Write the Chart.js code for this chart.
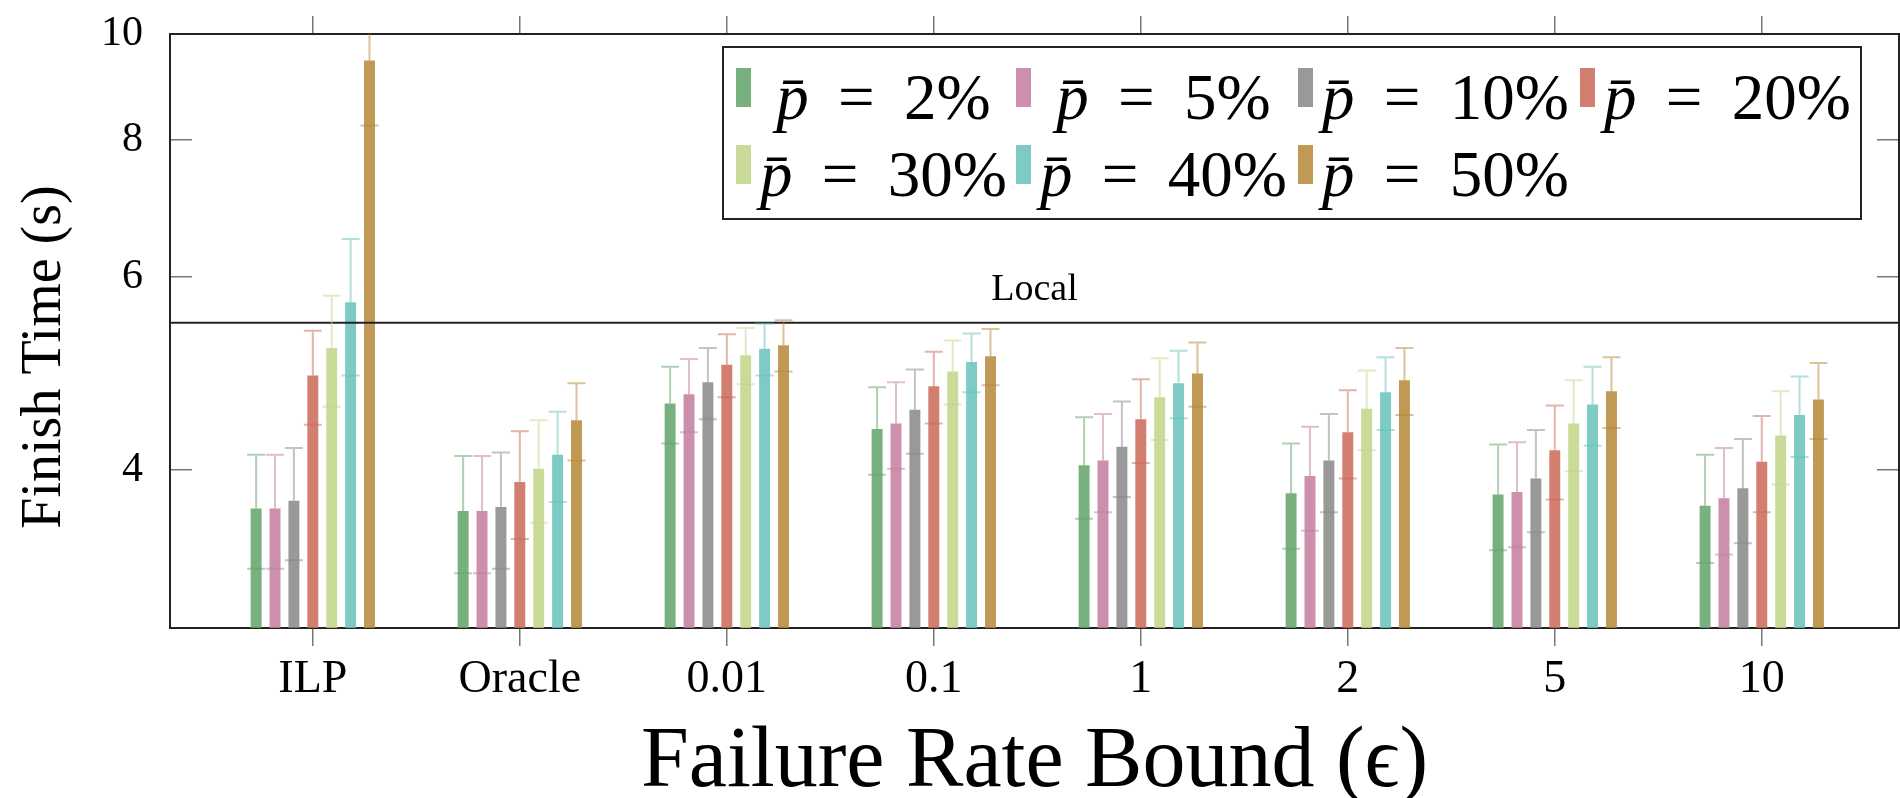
<!DOCTYPE html>
<html>
<head>
<meta charset="utf-8">
<script src="https://cdn.jsdelivr.net/npm/chart.js@4.4.0/dist/chart.umd.min.js"></script>
<style>
  html, body { margin: 0; padding: 0; background: #fff; }
  #wrap { width: 1900px; height: 798px; position: relative; }
</style>
</head>
<body>
<div id="wrap"><canvas id="c"></canvas></div>
<script>
// finish time per failure-rate bound, one series per p-bar

const categories = ["ILP", "Oracle", "0.01", "0.1", "1", "2", "5", "10"];
const seriesLabels = ["2%", "5%", "10%", "20%", "30%", "40%", "50%"];

const mean2  = [3.69, 3.67, 4.60, 4.36, 4.04, 3.81, 3.80, 3.71];
const err2   = [0.44, 0.45, 0.37, 0.40, 0.43, 0.42, 0.42, 0.42];
const mean5  = [3.69, 3.67, 4.69, 4.41, 4.08, 3.95, 3.82, 3.77];
const err5   = [0.44, 0.45, 0.36, 0.40, 0.42, 0.43, 0.42, 0.42];
const mean10 = [3.75, 3.70, 4.81, 4.54, 4.20, 4.08, 3.93, 3.85];
const err10  = [0.44, 0.45, 0.36, 0.40, 0.42, 0.42, 0.42, 0.42];
const mean20 = [4.88, 3.90, 4.99, 4.77, 4.45, 4.33, 4.17, 4.07];
const err20  = [0.48, 0.44, 0.33, 0.36, 0.39, 0.40, 0.41, 0.41];
const mean30 = [5.17, 4.01, 5.09, 4.92, 4.66, 4.55, 4.41, 4.30];
const err30  = [0.60, 0.43, 0.30, 0.33, 0.40, 0.38, 0.42, 0.42];
const mean40 = [5.69, 4.13, 5.16, 5.02, 4.80, 4.71, 4.59, 4.49];
const err40  = [0.81, 0.39, 0.28, 0.31, 0.34, 0.36, 0.38, 0.38];
const mean50 = [9.46, 4.44, 5.20, 5.08, 4.90, 4.83, 4.72, 4.64];
const err50  = [1.21, 0.36, 0.28, 0.30, 0.33, 0.34, 0.35, 0.37];

const yTicks = [4, 6, 8, 10];
const localTime = 5.45;

const means = [mean2, mean5, mean10, mean20, mean30, mean40, mean50];
const errs = [err2, err5, err10, err20, err30, err40, err50];
const rgb = [
  [98, 162, 104], [195, 123, 157], [135, 135, 135], [202, 105, 86],
  [193, 213, 135], [102, 194, 186], [181, 135, 55]
];

const FONT = '"Liberation Serif", "Times New Roman", serif';
const X_MIN = -0.69, X_MAX = 7.663;
const Y_MIN = 2.87, Y_MAX = 10;

const rgba = (c, a) => `rgba(${c[0]},${c[1]},${c[2]},${a})`;
const catTicks = s => { s.ticks = categories.map((_, i) => ({ value: i })); };
const yTickList = s => { s.ticks = yTicks.map(v => ({ value: v })); };
// no extra room for labels that hang over the plot edges
const noPad = s => { s.paddingTop = s.paddingBottom = s.paddingLeft = s.paddingRight = 0; };

const datasets = means.map((m, k) => ({
  type: "bar",
  label: seriesLabels[k],
  data: m.map((v, i) => ({ x: i, y: v })),
  errors: errs[k],
  backgroundColor: rgba(rgb[k], 0.85),
  errorColor: rgba(rgb[k], 0.5),
  swatch: rgb[k],
  categoryPercentage: 0.639,
  barPercentage: 0.58
}));

datasets.push({
  type: "line",
  label: "Local",
  data: [{ x: X_MIN, y: localTime }, { x: X_MAX, y: localTime }],
  borderColor: "#222",
  borderWidth: 2,
  pointRadius: 0,
  order: -1
});

const errorBars = {
  id: "errorBars",
  afterDatasetsDraw(chart) {
    const { ctx, chartArea: a } = chart;
    const y = chart.scales.y;
    ctx.save();
    ctx.beginPath();
    ctx.rect(a.left, a.top, a.right - a.left, a.bottom - a.top);
    ctx.clip();
    chart.data.datasets.forEach((ds, di) => {
      if (!ds.errors) return;
      chart.getDatasetMeta(di).data.forEach((bar, i) => {
        const m = ds.data[i].y, e = ds.errors[i];
        const hi = y.getPixelForValue(m + e), lo = y.getPixelForValue(m - e);
        ctx.strokeStyle = ds.errorColor;
        ctx.lineWidth = 2;
        ctx.beginPath();
        ctx.moveTo(bar.x, bar.y);
        ctx.lineTo(bar.x, hi);
        ctx.moveTo(bar.x - 9, hi);
        ctx.lineTo(bar.x + 9, hi);
        ctx.moveTo(bar.x - 9, lo);
        ctx.lineTo(bar.x + 9, lo);
        ctx.stroke();
      });
    });
    ctx.restore();
  }
};

const extras = {
  id: "extras",
  afterDraw(chart) {
    const { ctx, chartArea: a } = chart;
    const y = chart.scales.y;
    ctx.save();

    // label over the local line
    ctx.fillStyle = "#000";
    ctx.font = `38px ${FONT}`;
    ctx.textAlign = "center";
    ctx.textBaseline = "bottom";
    ctx.fillText("Local", (a.left + a.right) / 2, y.getPixelForValue(localTime) - 14);

    // y title
    ctx.save();
    ctx.translate(45, 357);
    ctx.rotate(-Math.PI / 2);
    ctx.font = `56px ${FONT}`;
    ctx.textBaseline = "middle";
    ctx.fillText("Finish Time (s)", 0, 0);
    ctx.restore();

    // legend
    const box = { l: 723, t: 47, r: 1861, b: 219 };
    ctx.fillStyle = "#fff";
    ctx.fillRect(box.l, box.t, box.r - box.l, box.b - box.t);
    ctx.strokeStyle = "#222";
    ctx.lineWidth = 2;
    ctx.strokeRect(box.l, box.t, box.r - box.l, box.b - box.t);

    const colX = [736, 1016, 1298, 1580];
    const rowY = [68, 145];
    const bars = chart.data.datasets.filter(d => d.errors);
    const italic = `italic 65px ${FONT}`, upright = `65px ${FONT}`;
    const eq = "\u2009 = \u2009";
    const widthOf = d => {
      ctx.font = italic;
      const w1 = ctx.measureText("p\u0304").width;
      ctx.font = upright;
      return w1 + ctx.measureText(eq + d.label).width;
    };
    const colW = colX.map((_, c) => Math.max(...bars.filter((_, i) => i % 4 === c).map(widthOf)));
    ctx.textAlign = "left";
    ctx.textBaseline = "alphabetic";
    bars.forEach((d, i) => {
      const c = i % 4, r = Math.floor(i / 4);
      ctx.fillStyle = rgba(d.swatch, 0.85);
      ctx.fillRect(colX[c], rowY[r], 15, 39);
      let tx = colX[c] + 24 + (colW[c] - widthOf(d)) / 2;
      const base = rowY[r] + 51;
      ctx.fillStyle = "#000";
      ctx.font = italic;
      ctx.fillText("p\u0304", tx, base);
      tx += ctx.measureText("p\u0304").width;
      ctx.font = upright;
      ctx.fillText(eq + d.label, tx, base);
    });
    ctx.restore();
  }
};

new Chart(document.getElementById("c"), {
  data: { datasets },
  options: {
    responsive: true,
    maintainAspectRatio: false,
    animation: false,
    layout: { padding: 0 },
    plugins: { legend: { display: false }, tooltip: { enabled: false } },
    scales: {
      x: {
        type: "linear", position: "bottom", min: X_MIN, max: X_MAX, offset: false,
        afterBuildTicks: catTicks,
        afterFit: s => { s.height = 170; noPad(s); },
        grid: { drawOnChartArea: false, offset: false, tickLength: 18, color: "#777", lineWidth: 1.5 },
        border: { color: "#222", width: 2 },
        ticks: {
          callback: v => categories[v], autoSkip: false, maxRotation: 0,
          font: { family: FONT, size: 46 }, color: "#000", padding: 6
        },
        title: {
          display: true, text: "Failure Rate Bound (\u03f5)", color: "#000", padding: 0,
          font: { family: FONT, size: 86, lineHeight: 0.8 }
        }
      },
      xTop: {
        type: "linear", position: "top", min: X_MIN, max: X_MAX, offset: false,
        afterBuildTicks: catTicks,
        afterFit: s => { s.height = 34; noPad(s); },
        grid: { drawOnChartArea: false, offset: false, tickLength: 18, color: "#777", lineWidth: 1.5 },
        border: { color: "#222", width: 2 },
        ticks: { display: false }
      },
      y: {
        type: "logarithmic", position: "left", min: Y_MIN, max: Y_MAX,
        afterBuildTicks: yTickList,
        afterFit: s => { s.width = 170; noPad(s); },
        grid: { drawOnChartArea: false, tickLength: -22, color: "#777", lineWidth: 1.5 },
        border: { color: "#222", width: 2 },
        ticks: {
          callback: v => String(v),
          font: { family: FONT, size: 42 }, color: "#000", padding: 49
        }
      },
      yRight: {
        type: "logarithmic", position: "right", min: Y_MIN, max: Y_MAX,
        afterBuildTicks: yTickList,
        afterFit: s => { s.width = 1; noPad(s); },
        grid: { drawOnChartArea: false, tickLength: -22, color: "#777", lineWidth: 1.5 },
        border: { color: "#222", width: 2 },
        ticks: { display: false }
      }
    }
  },
  plugins: [errorBars, extras]
});
</script>
</body>
</html>
